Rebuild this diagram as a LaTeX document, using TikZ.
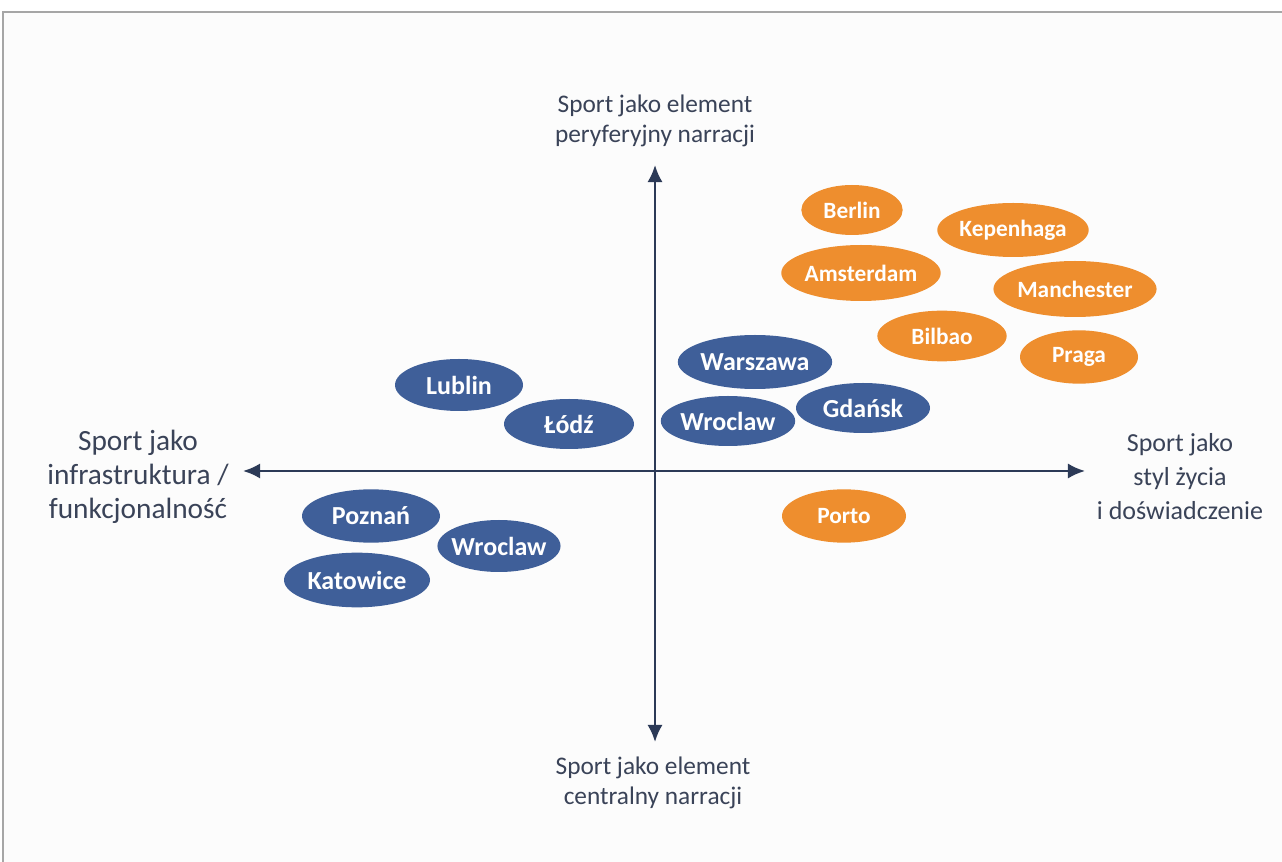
\documentclass[tikz,border=0pt]{standalone}
\usepackage{fontspec}
\setmainfont{Carlito}
\usetikzlibrary{shapes.geometric, arrows.meta}
\definecolor{cityblue}{HTML}{3F5F99}
\definecolor{cityorange}{HTML}{EE8E2E}
\definecolor{axisnavy}{HTML}{2C3A57}
\definecolor{labelgray}{HTML}{3A4358}
\tikzset{>={Latex[width=4mm,length=4.5mm]}}

\begin{document}
\begin{tikzpicture}[x=0.75pt, y=-0.75pt, bluecity/.style={ellipse, fill=cityblue, text=white, inner sep=0pt, font=\fontsize{19.5}{21}\selectfont\bfseries}, orangecity/.style={ellipse, fill=cityorange, text=white, inner sep=0pt, font=\fontsize{17.5}{19}\selectfont\bfseries}, axislabel/.style={text=labelgray, align=center, inner sep=0pt, font=\fontsize{19}{22.5}\selectfont}, sidelabel/.style={text=labelgray, align=center, inner sep=0pt, font=\fontsize{22}{25.5}\selectfont}]

    \useasboundingbox (0,0) rectangle (1282,862);
    \fill[black!1] (3,12) rectangle (1282,862);
    \draw[black!35, line width=1pt] (3,862) -- (3,12) -- (1282,12);

    %Axes
    \coordinate (origin) at (655,471);
    \coordinate (top) at (655,165);
    \coordinate (bottom) at (655,742);
    \coordinate (left) at (243,471);
    \coordinate (right) at (1085,471);
    \draw[<->, axisnavy, line width=1.8pt] (top) -- (bottom);
    \draw[<->, axisnavy, line width=1.8pt] (left) -- (right);

    %Axis labels
    \node[axislabel](peripheral) at (655,121){Sport jako element\\peryferyjny narracji};
    \node[axislabel](central) at (653,783){Sport jako element\\centralny narracji};
    \node[sidelabel](infra) at (138,477){Sport jako\\infrastruktura /\\funkcjonalność};
    \node[sidelabel, font=\fontsize{19.5}{25.5}\selectfont](lifestyle) at (1180,477){Sport jako\\styl życia\\i doświadczenie};

    %Blue cities
    \node[bluecity, minimum width=96pt, minimum height=39pt](lublin) at (459,385){Lublin};
    \node[bluecity, minimum width=97.5pt, minimum height=37.5pt](lodz) at (569,424){Łódź};
    \node[bluecity, minimum width=113pt, minimum height=40.5pt](warszawa) at (755,362){Warszawa};
    \node[bluecity, minimum width=100.5pt, minimum height=37.5pt](wroclawup) at (728,421){Wroclaw};
    \node[bluecity, minimum width=100.5pt, minimum height=37.5pt](gdansk) at (863,408){Gdańsk};
    \node[bluecity, minimum width=103.5pt, minimum height=40pt](poznan) at (371,516){Poznań};
    \node[bluecity, inner xsep=-3pt, minimum width=91.5pt, minimum height=39pt](wroclawdown) at (499,546){Wroclaw};
    \node[bluecity, minimum width=109.5pt, minimum height=41pt](katowice) at (357,580){Katowice};

    %Orange cities
    \node[orangecity, minimum width=76pt, minimum height=37.5pt](berlin) at (852,210){Berlin};
    \node[orangecity, minimum width=106.5pt, minimum height=40.5pt](kopenhaga) at (1013,230){Kepenhaga};
    \node[orangecity, minimum width=118.5pt, minimum height=42pt](amsterdam) at (861,273){Amsterdam};
    \node[orangecity, minimum width=109.5pt, minimum height=42pt](manchester) at (1075,289){Manchester};
    \node[orangecity, minimum width=97pt, minimum height=38pt](bilbao) at (942,336){Bilbao};
    \node[orangecity, minimum width=88.5pt, minimum height=40pt](praga) at (1079,357){Praga};
    \node[orangecity, minimum width=93pt, minimum height=40pt](porto) at (844,516){Porto};

\end{tikzpicture}
\end{document}
